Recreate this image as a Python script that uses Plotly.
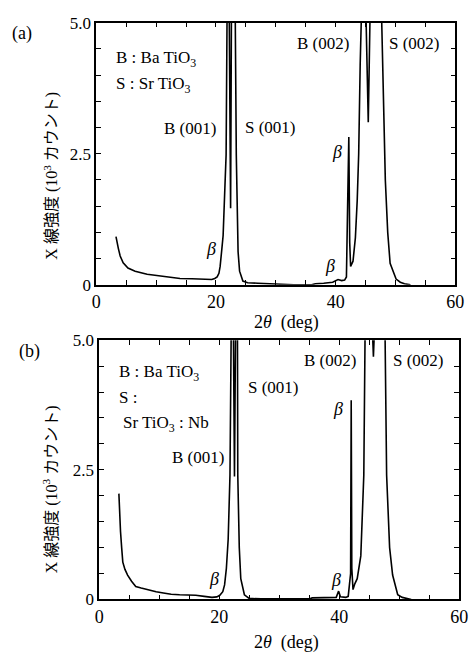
import plotly.graph_objects as go

# ---- data (2theta in deg, intensity in 10^3 counts) ----
a_x = [3.3, 3.5, 3.7, 4.0, 4.5, 5.3, 6.5, 8.5, 10.5, 12, 14, 16, 18, 19.3, 19.8, 20.2,
       20.5, 20.7, 21.0, 21.2, 21.5, 21.7, 21.85, 21.95, 22.2, 22.45, 22.6, 22.9, 23.2,
       23.4, 23.7, 23.95, 24.5, 25.3, 27, 28.5, 30, 33, 36, 36.6, 38, 39.5, 40.4, 41.0,
       41.5, 41.8, 42.0, 42.2, 42.35, 42.5, 42.9, 43.3, 43.6, 43.85, 44.1, 44.3, 44.6,
       45.0, 45.45, 45.8, 46.5, 47.3, 47.7, 48.3, 48.7, 49.1, 50.1, 50.8, 51.5, 52.5]
a_y = [0.92, 0.78, 0.69, 0.55, 0.42, 0.32, 0.26, 0.20, 0.17, 0.14, 0.12, 0.115, 0.11, 0.10,
       0.12, 0.15, 0.22, 0.35, 0.70, 0.94, 1.87, 2.48, 5.0, 6.5, 5.5, 1.46, 5.5, 6.5, 5.5,
       2.48, 0.63, 0.26, 0.07, 0.04, 0.03, 0.02, 0.01, 0.0, 0.0, 0.02, 0.03, 0.05, 0.10,
       0.08, 0.09, 0.15, 1.5, 2.82, 0.8, 0.35, 0.45, 0.9, 1.6, 2.5, 4.2, 5.5, 6.5, 5.5,
       3.1, 5.5, 6.5, 6.5, 5.0, 2.0, 1.0, 0.41, 0.11, 0.05, 0.02, 0.0]

b_x = [3.29, 3.4, 3.56, 3.75, 3.94, 4.3, 4.74, 5.4, 6.1, 7, 8, 9.5, 10.7, 12, 13.4, 16.1,
       17.5, 18.8, 19.6, 20.1, 20.6, 20.9, 21.2, 21.5, 21.8, 21.95, 22.1, 22.35, 22.55,
       22.75, 22.95, 23.05, 23.1, 23.35, 23.6, 24.2, 25.0, 27, 30, 35, 35.5, 38, 39.5,
       39.9, 40.2, 41.1, 41.5, 41.9, 42.0, 42.1, 42.3, 42.6, 43.0, 43.6, 43.8, 44.1, 44.3,
       44.6, 45.4, 45.7, 46.0, 46.5, 47.4, 47.65, 47.9, 48.4, 48.9, 49.75, 50.5, 51.1, 52]
b_y = [2.04, 1.7, 1.31, 1.0, 0.72, 0.58, 0.47, 0.35, 0.25, 0.22, 0.19, 0.15, 0.125, 0.10,
       0.09, 0.08, 0.06, 0.04, 0.05, 0.08, 0.15, 0.28, 0.6, 1.16, 2.4, 5.0, 6.5, 5.5, 2.37,
       5.5, 6.5, 5.0, 2.4, 1.0, 0.4, 0.09, 0.02, 0.01, 0.01, 0.01, 0.03, 0.03, 0.04,
       0.16, 0.05, 0.04, 0.06, 0.5, 3.84, 0.6, 0.19, 0.3, 0.4, 0.84, 1.47, 2.4, 5.0,
       6.5, 5.6, 4.68, 5.6, 6.5, 6.5, 5.0, 2.4, 1.0, 0.47, 0.09, 0.04, 0.02, 0.0]

x_ticks = [0, 20, 40, 60]
x_ticktext = ["0", "20", "40", "60"]
y_ticks = [0, 2.5, 5.0]
y_ticktext = ["0", "2.5", "5.0"]

W, H = 476, 658
SERIF = "Liberation Serif, Times New Roman, serif"
JP = "Liberation Serif, Noto Sans CJK JP, serif"

fig = go.Figure()
fig.add_trace(go.Scatter(x=a_x, y=a_y, mode="lines", line=dict(color="black", width=1.6),
                         xaxis="x", yaxis="y", showlegend=False))
fig.add_trace(go.Scatter(x=b_x, y=b_y, mode="lines", line=dict(color="black", width=1.6),
                         xaxis="x2", yaxis="y2", showlegend=False))

def xax(dom, anchor):
    return dict(domain=dom, anchor=anchor, range=[0, 60], tickvals=x_ticks, ticktext=x_ticktext,
                ticks="inside", ticklen=5, tickwidth=1.2, tickcolor="black",
                minor=dict(dtick=5, tick0=0, ticks="inside", ticklen=5, tickwidth=1.2,
                           tickcolor="black", showgrid=False),
                showline=True, linecolor="black", linewidth=1.6, mirror="ticks",
                showgrid=False, zeroline=False, tickfont=dict(family=SERIF, size=18, color="black"))

def yax(dom, anchor):
    return dict(domain=dom, anchor=anchor, range=[0, 5], tickvals=y_ticks, ticktext=y_ticktext,
                ticks="inside", ticklen=5, tickwidth=1.2, tickcolor="black",
                minor=dict(dtick=0.5, tick0=0, ticks="inside", ticklen=5, tickwidth=1.2,
                           tickcolor="black", showgrid=False),
                showline=True, linecolor="black", linewidth=1.6, mirror="ticks",
                showgrid=False, zeroline=False, tickfont=dict(family=SERIF, size=17, color="black"))

fig.update_layout(
    width=W, height=H, margin=dict(l=0, r=0, t=0, b=0),
    paper_bgcolor="white", plot_bgcolor="white",
    xaxis=xax([94 / W, 464 / W], "y"),
    yaxis=yax([1 - 284 / H, 1 - 14 / H], "x"),
    xaxis2=xax([97 / W, 468 / W], "y2"),
    yaxis2=yax([1 - 608 / H, 1 - 341 / H], "x2"),
)

def ann(text, x, y, xref, yref, xanchor="center", size=17, angle=0, family=SERIF):
    fig.add_annotation(text=text, x=x, y=y, xref=xref, yref=yref, xanchor=xanchor,
                       yanchor="middle", showarrow=False, textangle=angle,
                       font=dict(family=family, size=size, color="black"))

# panel (a)
ann("(a)", 17 / W, 1 - 25 / H, "paper", "paper", size=18)
ann("B : Ba TiO<sub>3</sub>", 2.9, 4.3, "x", "y", "left")
ann("S : Sr TiO<sub>3</sub>", 2.9, 3.81, "x", "y", "left")
ann("B (001)", 20.4, 2.98, "x", "y", "right")
ann("S (001)", 24.5, 3.0, "x", "y", "left")
ann("B (002)", 42.6, 4.61, "x", "y", "right")
ann("S (002)", 48.5, 4.61, "x", "y", "left")
ann("<i>β</i>", 40.3, 2.54, "x", "y", size=18)
ann("<i>β</i>", 19.1, 0.69, "x", "y", size=18)
ann("<i>β</i>", 39.1, 0.35, "x", "y", size=18)
ann("2<i>θ</i>  (deg)", 290 / W, 1 - 323 / H, "paper", "paper", size=18)
ann("X 線強度 (10<sup>3</sup> カウント)", 47 / W, 1 - 172 / H, "paper", "paper", size=16,
    angle=-90, family=JP)

# panel (b)
ann("(b)", 25 / W, 1 - 353 / H, "paper", "paper", size=18)
ann("B : Ba TiO<sub>3</sub>", 2.9, 4.36, "x2", "y2", "left")
ann("S :", 2.9, 3.9, "x2", "y2", "left")
ann("Sr TiO<sub>3</sub> : Nb", 3.7, 3.39, "x2", "y2", "left")
ann("B (001)", 21.2, 2.73, "x2", "y2", "right")
ann("S (001)", 24.4, 4.08, "x2", "y2", "left")
ann("B (002)", 43.2, 4.61, "x2", "y2", "right")
ann("S (002)", 48.7, 4.61, "x2", "y2", "left")
ann("<i>β</i>", 39.8, 3.67, "x2", "y2", size=18)
ann("<i>β</i>", 19.1, 0.39, "x2", "y2", size=18)
ann("<i>β</i>", 39.5, 0.37, "x2", "y2", size=18)
ann("2<i>θ</i>  (deg)", 290 / W, 1 - 652 / H, "paper", "paper", size=18)
ann("X 線強度 (10<sup>3</sup> カウント)", 47 / W, 1 - 495 / H, "paper", "paper", size=16,
    angle=-90, family=JP)

fig.write_html("out.html")
